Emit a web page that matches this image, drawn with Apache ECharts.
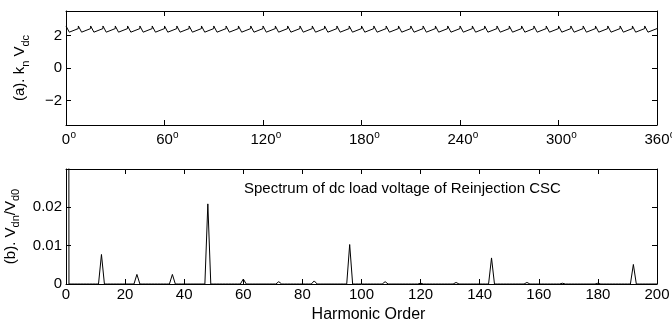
<!DOCTYPE html>
<html>
<head>
<meta charset="utf-8">
<script src="https://cdn.jsdelivr.net/npm/echarts@6/dist/echarts.min.js"></script>
<style>
  html, body { margin: 0; padding: 0; background: #fff; }
  #chart { width: 672px; height: 324px; }
</style>
</head>
<body>
<div id="chart"></div>
<script>
const FONT = 'Liberation Sans, Arial, Helvetica, sans-serif'

// (a) k_n V_dc over one cycle (degrees), 48 teeth
const sawDeg = [
  0, 2, 7.5, 7.5, 9.5, 15, 15, 17, 22.5, 22.5, 24.5, 30,
  30, 32, 37.5, 37.5, 39.5, 45, 45, 47, 52.5, 52.5, 54.5, 60,
  60, 62, 67.5, 67.5, 69.5, 75, 75, 77, 82.5, 82.5, 84.5, 90,
  90, 92, 97.5, 97.5, 99.5, 105, 105, 107, 112.5, 112.5, 114.5, 120,
  120, 122, 127.5, 127.5, 129.5, 135, 135, 137, 142.5, 142.5, 144.5, 150,
  150, 152, 157.5, 157.5, 159.5, 165, 165, 167, 172.5, 172.5, 174.5, 180,
  180, 182, 187.5, 187.5, 189.5, 195, 195, 197, 202.5, 202.5, 204.5, 210,
  210, 212, 217.5, 217.5, 219.5, 225, 225, 227, 232.5, 232.5, 234.5, 240,
  240, 242, 247.5, 247.5, 249.5, 255, 255, 257, 262.5, 262.5, 264.5, 270,
  270, 272, 277.5, 277.5, 279.5, 285, 285, 287, 292.5, 292.5, 294.5, 300,
  300, 302, 307.5, 307.5, 309.5, 315, 315, 317, 322.5, 322.5, 324.5, 330,
  330, 332, 337.5, 337.5, 339.5, 345, 345, 347, 352.5, 352.5, 354.5, 360
]
const sawVal = [
  2.58, 2.2, 2.42, 2.58, 2.2, 2.42, 2.58, 2.2, 2.42, 2.58, 2.2, 2.42,
  2.58, 2.2, 2.42, 2.58, 2.2, 2.42, 2.58, 2.2, 2.42, 2.58, 2.2, 2.42,
  2.58, 2.2, 2.42, 2.58, 2.2, 2.42, 2.58, 2.2, 2.42, 2.58, 2.2, 2.42,
  2.58, 2.2, 2.42, 2.58, 2.2, 2.42, 2.58, 2.2, 2.42, 2.58, 2.2, 2.42,
  2.58, 2.2, 2.42, 2.58, 2.2, 2.42, 2.58, 2.2, 2.42, 2.58, 2.2, 2.42,
  2.58, 2.2, 2.42, 2.58, 2.2, 2.42, 2.58, 2.2, 2.42, 2.58, 2.2, 2.42,
  2.58, 2.2, 2.42, 2.58, 2.2, 2.42, 2.58, 2.2, 2.42, 2.58, 2.2, 2.42,
  2.58, 2.2, 2.42, 2.58, 2.2, 2.42, 2.58, 2.2, 2.42, 2.58, 2.2, 2.42,
  2.58, 2.2, 2.42, 2.58, 2.2, 2.42, 2.58, 2.2, 2.42, 2.58, 2.2, 2.42,
  2.58, 2.2, 2.42, 2.58, 2.2, 2.42, 2.58, 2.2, 2.42, 2.58, 2.2, 2.42,
  2.58, 2.2, 2.42, 2.58, 2.2, 2.42, 2.58, 2.2, 2.42, 2.58, 2.2, 2.42,
  2.58, 2.2, 2.42, 2.58, 2.2, 2.42, 2.58, 2.2, 2.42, 2.58, 2.2, 2.42
]
const yTicksA = [-2, 0, 2]

// (b) harmonic spectrum, V_dn / V_d0 (0 everywhere else)
const harmOrders = [0, 12, 24, 36, 48, 60, 72, 84, 96, 108, 120, 132, 144, 156, 168, 180, 192]
const harmValues = [1, 0.0077, 0.0025, 0.0025, 0.0209, 0.0013, 0.0006, 0.0008, 0.0103, 0.0006, 0.0002, 0.0004, 0.0068, 0.0004, 0.0002, 0.0002, 0.0051]
const harmMax = 200
const yTicksB = [0, 0.01, 0.02]

const sawData = sawDeg.map((d, i) => [d, sawVal[i]])
const spectrum = []
for (let n = 0; n <= harmMax; n++) {
  const k = harmOrders.indexOf(n)
  spectrum.push([n, k >= 0 ? harmValues[k] : 0])
}

const chart = echarts.init(document.getElementById('chart'))

const lineCol = '#000'
const tick = { show: true, inside: true, length: 5, lineStyle: { color: lineCol } }
const axLine = { show: true, onZero: false, lineStyle: { color: lineCol, width: 1 } }
const lbl = { color: '#000', fontFamily: FONT, fontSize: 15 }
const nameRich = { s: { fontSize: 11, lineHeight: 10, verticalAlign: 'bottom', fontFamily: FONT, color: '#000' } }

function mirrorX(grid, min, max, interval) {
  return { gridIndex: grid, type: 'value', position: 'top', min: min, max: max, interval: interval,
    axisLine: axLine, axisTick: tick, axisLabel: { show: false }, splitLine: { show: false } }
}
function mirrorY(grid, min, max, ticks) {
  return { gridIndex: grid, type: 'value', position: 'right', min: min, max: max,
    axisLine: axLine, axisTick: Object.assign({ customValues: ticks }, tick),
    axisLabel: { show: false }, splitLine: { show: false } }
}

const option = {
  animation: false,
  backgroundColor: '#fff',
  grid: [
    { left: 66, right: 15, top: 11, height: 114, containLabel: false, outerBoundsMode: 'none' },
    { left: 66, right: 15, top: 169, height: 115, containLabel: false, outerBoundsMode: 'none' }
  ],
  xAxis: [
    { gridIndex: 0, type: 'value', min: 0, max: 360, interval: 60,
      axisLine: axLine, axisTick: tick, splitLine: { show: false },
      axisLabel: Object.assign({}, lbl, {
        margin: 5,
        formatter: v => '{p|}{n|' + v + '}{d|o}',
        rich: {
          p: { width: 6 },
          n: { fontSize: 15, lineHeight: 20, fontFamily: FONT, color: '#000' },
          d: { fontSize: 10, lineHeight: 10, verticalAlign: 'top', fontFamily: FONT, color: '#000', width: 6 }
        }
      }) },
    mirrorX(0, 0, 360, 60),
    { gridIndex: 1, type: 'value', min: 0, max: harmMax, interval: 20,
      axisLine: axLine, axisTick: tick, splitLine: { show: false },
      axisLabel: Object.assign({}, lbl, { margin: 3 }),
      name: 'Harmonic Order', nameLocation: 'middle', nameGap: 23,
      nameTextStyle: { color: '#000', fontFamily: FONT, fontSize: 16, padding: [0, 0, 0, 14] } },
    mirrorX(1, 0, harmMax, 20)
  ],
  yAxis: [
    { gridIndex: 0, type: 'value', min: -3.5, max: 3.5,
      axisLine: axLine, axisTick: Object.assign({ customValues: yTicksA }, tick), splitLine: { show: false },
      axisLabel: Object.assign({}, lbl, { margin: 4, customValues: yTicksA,
        formatter: v => (v < 0 ? '\u2212' + (-v) : String(v)) }),
      name: '(a). k{s|n} V{s|dc}', nameLocation: 'middle', nameGap: 35,
      nameTextStyle: { color: '#000', fontFamily: FONT, fontSize: 15, lineHeight: 22, rich: nameRich } },
    mirrorY(0, -3.5, 3.5, yTicksA),
    { gridIndex: 1, type: 'value', min: 0, max: 0.03,
      axisLine: axLine, axisTick: Object.assign({ customValues: yTicksB }, tick), splitLine: { show: false },
      axisLabel: Object.assign({}, lbl, { margin: 4, customValues: yTicksB }),
      name: '(b). V{s|dn}/V{s|d0}', nameLocation: 'middle', nameGap: 44,
      nameTextStyle: { color: '#000', fontFamily: FONT, fontSize: 15, lineHeight: 22, rich: nameRich } },
    mirrorY(1, 0, 0.03, yTicksB)
  ],
  graphic: [
    { type: 'text', left: 244, top: 181,
      style: { text: 'Spectrum of dc load voltage of Reinjection CSC', fill: '#000', font: '15px ' + FONT } }
  ],
  series: [
    { type: 'line', xAxisIndex: 0, yAxisIndex: 0, data: sawData, showSymbol: false, clip: true,
      lineStyle: { color: '#000', width: 1 } },
    { type: 'line', xAxisIndex: 2, yAxisIndex: 2, data: spectrum, showSymbol: false, clip: true,
      lineStyle: { color: '#000', width: 1 } }
  ]
}

chart.setOption(option)
</script>
</body>
</html>
